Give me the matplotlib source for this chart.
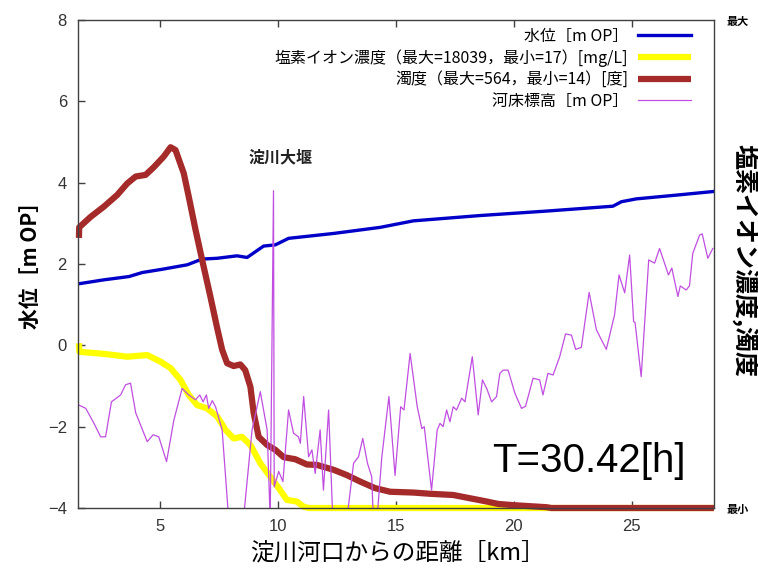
import numpy as np
import matplotlib
matplotlib.use('Agg')
import matplotlib.pyplot as plt

plt.rcParams['font.family'] = ['Noto Sans CJK JP', 'DejaVu Sans']

# 水位 (water level) [m OP]
wl_x = [1.5, 2.6, 3.66, 4.23, 5.08, 6.14, 6.77, 7.41, 8.25, 8.68, 9.38, 9.88,
        10.44, 12.35, 14.33, 15.74, 18.56, 21.39, 24.21, 24.57, 25.2, 27.04, 28.45]
wl_y = [1.51, 1.61, 1.69, 1.79, 1.87, 1.98, 2.12, 2.14, 2.20, 2.16, 2.44, 2.47,
        2.63, 2.75, 2.90, 3.06, 3.19, 3.30, 3.42, 3.53, 3.60, 3.70, 3.78]

# 塩素イオン濃度 (scaled to the left axis)
cl_x = [1.54, 1.56, 2.6, 3.59, 4.44, 5.0, 5.43, 5.85, 6.2, 6.56, 6.98, 7.41,
        7.76, 8.11, 8.46, 8.82, 9.24, 9.66, 10.02, 10.37, 10.79, 11.08, 11.3, 28.5]
cl_y = [0.05, -0.16, -0.21, -0.28, -0.24, -0.40, -0.56, -0.85, -1.22, -1.47, -1.55, -1.75,
        -2.08, -2.29, -2.25, -2.45, -2.90, -3.23, -3.51, -3.80, -3.84, -3.97, -4.0, -4.0]

# 濁度 (scaled to the left axis)
tb_x = [1.54, 1.55, 2.04, 2.6, 3.17, 3.59, 3.95, 4.37, 4.72, 5.14, 5.43, 5.64,
        5.99, 6.2, 6.49, 6.77, 7.12, 7.41, 7.62, 7.83, 8.11, 8.39, 8.6, 8.82,
        8.96, 9.17, 9.53, 9.88, 10.23, 10.72, 11.22, 11.64, 12.35, 12.91, 13.48,
        14.11, 14.75, 15.74, 16.45, 17.43, 18.14, 18.85, 19.34, 19.98, 21.39, 21.6, 28.5]
tb_y = [2.64, 2.90, 3.16, 3.41, 3.70, 3.98, 4.15, 4.19, 4.38, 4.64, 4.87, 4.80,
        4.23, 3.66, 2.84, 2.10, 1.20, 0.42, -0.11, -0.44, -0.51, -0.47, -0.61, -1.02,
        -1.67, -2.25, -2.45, -2.57, -2.75, -2.80, -2.93, -2.94, -3.06, -3.19, -3.35,
        -3.51, -3.60, -3.62, -3.65, -3.68, -3.76, -3.84, -3.90, -3.93, -3.98, -4.0, -4.0]

# 河床標高 (riverbed elevation) [m OP]
bed_x = [1.54, 1.83, 2.18, 2.46, 2.67, 2.92, 3.31, 3.52, 3.73, 3.95, 4.44, 4.69,
         4.93, 5.26, 5.57, 5.92, 6.2, 6.49, 6.67, 6.81, 6.95, 7.05, 7.2, 7.34,
         7.62, 7.9, 8.52, 8.89, 9.24, 9.53, 9.66, 9.8, 9.83, 10.02, 10.2, 10.44,
         10.65, 10.86, 10.94, 11.08, 11.29, 11.43, 11.57, 11.78, 11.92, 12.14, 12.32,
         12.91, 13.2, 13.41, 13.59, 13.79, 13.97, 14.04, 14.19, 14.4, 14.7, 14.96,
         15.2, 15.34, 15.6, 15.9, 16.1, 16.2, 16.51, 16.75, 16.87, 17.0, 17.15,
         17.29, 17.43, 17.57, 17.79, 17.93, 18.24, 18.49, 18.67, 18.85, 19.06,
         19.27, 19.41, 19.55, 19.76, 20.05, 20.33, 20.5, 20.82, 21.1, 21.24, 21.45,
         21.67, 21.95, 22.2, 22.45, 22.63, 22.87, 23.2, 23.51, 23.93, 24.28, 24.47,
         24.71, 24.92, 25.09, 25.15, 25.41, 25.73, 25.98, 26.19, 26.57, 26.71, 26.97,
         27.07, 27.32, 27.46, 27.6, 27.89, 28.0, 28.24, 28.45]
bed_y = [-1.47, -1.55, -1.92, -2.25, -2.25, -1.39, -1.22, -0.97, -0.93, -1.66, -2.37, -2.20,
         -2.25, -2.86, -1.84, -1.06, -1.22, -1.34, -1.22, -1.39, -1.22, -1.55, -1.36, -1.51,
         -2.08, -4.3, -4.3, -2.08, -1.14, -2.08, -4.3, 3.8, -3.48, -3.1, -3.35, -1.59,
         -2.16, -2.25, -2.41, -1.26, -2.74, -2.57, -3.15, -2.08, -3.56, -1.59, -4.3,
         -4.3, -2.90, -2.74, -2.29, -2.90, -3.23, -4.3, -4.3, -2.74, -1.26, -3.2,
         -1.51, -1.59, -0.20, -1.5, -2.05, -2.0, -3.56, -2.08, -1.92, -2.0, -1.59,
         -1.88, -1.51, -1.59, -1.30, -1.39, -0.28, -1.71, -0.85, -1.06, -1.39,
         -1.26, -0.69, -0.61, -0.61, -1.18, -1.55, -1.5, -0.81, -0.85, -1.22, -0.69,
         -0.73, -0.28, 0.28, 0.25, -0.10, -0.05, 1.30, 0.38, -0.10, 0.75, 1.73,
         1.29, 2.22, 0.58, 0.56, -0.77, 2.10, 2.02, 2.38, 1.73, 1.90, 1.20,
         1.46, 1.36, 1.46, 2.26, 2.71, 2.74, 2.14, 2.38]

labels = ['水位［m OP］', '塩素イオン濃度（最大=18039，最小=17）[mg/L]',
          '濁度（最大=564，最小=14）[度]', '河床標高［m OP］']
x_ticks = [5, 10, 15, 20, 25]
y_ticks = [-4, -2, 0, 2, 4, 6, 8]

fig = plt.figure(figsize=(7.58, 5.79), dpi=100)
ax = fig.add_axes([0.1029, 0.1226, 0.839, 0.843])

ax.plot(wl_x, wl_y, color='#0000c8', lw=2.4, label=labels[0])
ax.plot(cl_x, cl_y, color='#ffff00', lw=4.5, label=labels[1], clip_on=False,
        solid_capstyle='butt')
ax.plot(tb_x, tb_y, color='#a52a2a', lw=4.5, label=labels[2], clip_on=False,
        solid_capstyle='butt')
ax.plot(bed_x, bed_y, color='#c04ee0', lw=0.9, label=labels[3])

ax.set_xlim(1.5, 28.5)
ax.set_ylim(-4, 8)
ax.set_xticks(x_ticks)
ax.set_yticks(y_ticks)
ax.tick_params(direction='in', length=5, width=1, top=True, right=True,
               colors='#404040', labelsize=12, pad=8)
for lab in ax.get_xticklabels() + ax.get_yticklabels():
    lab.set_fontfamily('Liberation Sans')
    lab.set_color('#333333')
for sp in ax.spines.values():
    sp.set_color('#404040')
    sp.set_linewidth(1)

ax2 = ax.twinx()
ax2.set_ylim(-4, 8)
ax2.set_yticks([-4, 8], ['最小', '最大'])
ax2.tick_params(length=0, labelsize=8, pad=9)
for lab in ax2.get_yticklabels():
    lab.set_fontweight('bold')
for sp in ax2.spines.values():
    sp.set_visible(False)

leg = ax.legend(loc='upper right', bbox_to_anchor=(0.976, 1.0), frameon=False,
                markerfirst=False, fontsize=11.5, handlelength=3.3,
                labelspacing=0.27, borderpad=0, handletextpad=0.6)

ax.text(10.09, 4.61, '淀川大堰', ha='center', va='center', fontsize=11.5,
        fontweight='bold', color='#222222')
ax.text(19.07, -3.11, 'T=30.42[h]', fontsize=29, family='Liberation Sans',
        va='baseline', ha='left')

fig.text(30 / 758, 1 - 260 / 579, '水位［m OP］', rotation=90, ha='center',
         va='center', fontsize=15, fontweight='bold')
fig.text(745 / 758, 1 - 260 / 579, '塩素イオン濃度,濁度', rotation=-90,
         ha='center', va='center', fontsize=18, fontweight='bold')
fig.text(397 / 758, 1 - 553 / 579, '淀川河口からの距離［km］', ha='center',
         va='center', fontsize=17)

fig.savefig('out.png', dpi=100)
